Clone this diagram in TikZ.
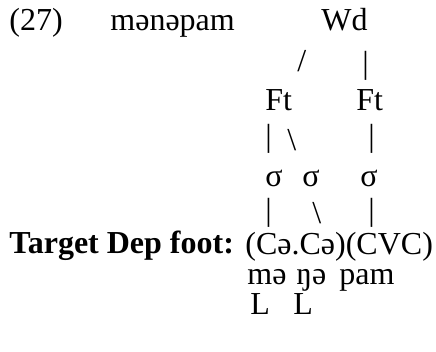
\documentclass[tikz,border=0pt]{standalone}
\usepackage{fontspec}
\setmainfont{Liberation Serif}
\usepackage{tikz}

\begin{document}
\begin{tikzpicture}[x=0.5pt,y=-0.5pt,
	every node/.style={inner sep=0pt,anchor=base west,font=\fontsize{16}{19}\selectfont}]
	
	\useasboundingbox (0,0) rectangle (436,352);
	
	\node (ex)   at (9, 31)    {(27)};
	\node (word) at (110, 31)  {mənəpam};
	\node (wd)   at (321, 31)  {Wd};
	
	\node (l1)   at (297, 72)  {/};
	\node (l2)   at (362, 74)  {|};
	
	\node (ft1)  at (265, 111) {Ft};
	\node (ft2)  at (356, 111) {Ft};
	
	\node (l3)   at (265, 147) {|};
	\node (l4)   at (287, 151) {\textbackslash};
	\node (l5)   at (368, 147) {|};
	
	\node (s1)   at (265, 187) {σ};
	\node (s2)   at (302, 187) {σ};
	\node (s3)   at (360, 187) {σ};
	
	\node (l6)   at (265, 221) {|};
	\node (l7)   at (312, 224) {\textbackslash};
	\node (l8)   at (368, 221) {|};
	
	\node (tgt)  at (9, 254)   {\textbf{Target Dep foot:}};
	\node (ft)   at (245, 255) {(Cə.Cə)(CVC)};
	
	\node (m1)   at (247, 285) {mə};
	\node (m2)   at (296, 285) {ŋə};
	\node (m3)   at (339, 285) {pam};
	
	\node (t1)   at (250, 315) {L};
	\node (t2)   at (293, 315) {L};

\end{tikzpicture}
\end{document}
